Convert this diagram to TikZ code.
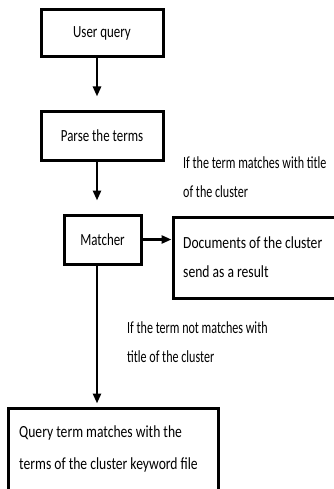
\documentclass[tikz,border=0pt]{standalone}
\usepackage{fontspec}
\setmainfont{Carlito}[FakeStretch=0.76]
\newfontfamily\lblfont{Carlito}[FakeStretch=0.71]
\newfontfamily\wideboxfont{Carlito}[FakeStretch=0.80]
\usetikzlibrary{arrows.meta}
\begin{document}
\begin{tikzpicture}[x=1pt,y=1pt,
  box/.style={draw,line width=3pt,inner sep=0pt,minimum width=#1},
  txt/.style={font=\fontsize{17}{29}\selectfont},
  lbl/.style={align=left,anchor=north west,inner sep=0pt,font=\lblfont\fontsize{17}{29}\selectfont},
  blbl/.style={align=left,anchor=north west,inner sep=0pt,font=\wideboxfont\fontsize{17}{#1}\selectfont},
  arr/.style={line width=2.6pt,-{Triangle[length=10pt,width=8pt]}}]
\useasboundingbox (0,0) rectangle (334,-489);
\node[box=122pt,minimum height=47pt,txt] (uq) at (102,-33.5) {User query};
\node[box=122pt,minimum height=48pt,txt] (pt) at (102,-136) {Parse the terms};
\node[box=77pt,minimum height=49pt,txt] (m) at (102.5,-239.5) {Matcher};
\node[box=180pt,minimum height=81pt] (doc) at (263,-257.5) {};
\node[blbl=29] (doct) at (183,-236) {Documents of the cluster\\send as a result};
\node[box=210pt,minimum height=92pt] (q) at (113,-454) {};
\node[blbl=32] (qt) at (19,-425) {Query term matches with the\\terms of the cluster keyword file};
\node[lbl] (l1) at (183,-156) {If the term matches with title\\of the cluster};
\node[lbl] (l2) at (127,-321) {If the term not matches with\\title of the cluster};
\draw[arr,shorten >=14pt] ([xshift=-5pt]uq.south) -- ([xshift=-5pt]pt.north);
\draw[arr,shorten >=13pt] ([xshift=-5pt]pt.south) -- ([xshift=-5.5pt]m.north);
\draw[arr] (m.east) -- (m.east -| doc.west);
\draw[arr,shorten >=3pt] ([xshift=-5.5pt]m.south) -- ([xshift=-5.5pt]m.south |- q.north);
\end{tikzpicture}
\end{document}
